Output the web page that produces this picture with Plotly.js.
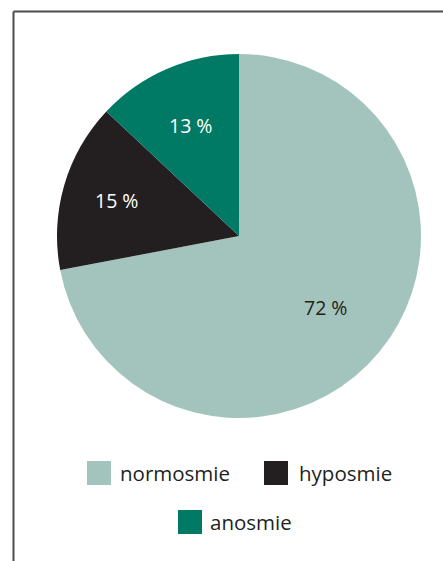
<!DOCTYPE html>
<html>
<head>
<meta charset="utf-8">
<script src="https://cdn.plot.ly/plotly-3.0.1.min.js"></script>
<style>html,body{margin:0;padding:0;background:#fff;}#chart{width:443px;height:561px;}</style>
</head>
<body>
<div id="chart"></div>
<script>
const categories = ["normosmie", "hyposmie", "anosmie"];
const values = [72, 15, 13];
const sliceColors = ["#a3c4bd", "#231f20", "#007a65"];
const labelColors = ["#231f20", "#ffffff", "#ffffff"];

const W = 443, H = 561;
const px = x => x / W;
const py = y => 1 - y / H;

// pie geometry (pixels)
const CX = 239, CY = 236, R = 182;
const labelRadius = [0.62, 0.70, 0.66];

const trace = {
  type: "pie",
  labels: categories,
  values: values,
  sort: false,
  direction: "clockwise",
  rotation: 0,
  marker: { colors: sliceColors, line: { width: 0 } },
  textinfo: "none",
  hoverinfo: "none",
  showlegend: false,
  domain: { x: [px(CX - R), px(CX + R)], y: [py(CY + R), py(CY - R)] }
};

const annotations = [];
// slice labels placed along each slice's mid-angle
const total = values.reduce((a, b) => a + b, 0);
let acc = 0;
values.forEach((v, i) => {
  const mid = (acc + v / 2) / total * 2 * Math.PI;
  acc += v;
  const r = R * labelRadius[i];
  annotations.push({
    xref: "paper", yref: "paper",
    x: px(CX + r * Math.sin(mid)), y: py(CY - r * Math.cos(mid)),
    xanchor: "center", yanchor: "middle", showarrow: false,
    text: v + " %",
    font: { family: "Open Sans, sans-serif", size: 19.5, color: labelColors[i] }
  });
});

// legend (custom, larger swatches)
const legendPos = [
  { sx: 87, sy: 461, tx: 118, ty: 473 },
  { sx: 264, sy: 461, tx: 297, ty: 473 },
  { sx: 178, sy: 510, tx: 208, ty: 522 }
];
const shapes = [
  { type: "line", xref: "paper", yref: "paper", x0: px(13.5), x1: px(13.5), y0: py(11.5), y1: -0.05, line: { color: "#4d4d4d", width: 2 } },
  { type: "line", xref: "paper", yref: "paper", x0: px(13.5), x1: 1.05, y0: py(11.5), y1: py(11.5), line: { color: "#4d4d4d", width: 2 } }
];
categories.forEach((c, i) => {
  const p = legendPos[i];
  shapes.push({ type: "rect", xref: "paper", yref: "paper", x0: px(p.sx), x1: px(p.sx + 24), y0: py(p.sy + 24), y1: py(p.sy), fillcolor: sliceColors[i], line: { width: 0 } });
  annotations.push({ xref: "paper", yref: "paper", x: px(p.tx), y: py(p.ty), xanchor: "left", yanchor: "middle", showarrow: false, text: c, font: { family: "Open Sans, sans-serif", size: 20.5, color: "#231f20" } });
});

const layout = {
  width: W, height: H,
  margin: { l: 0, r: 0, t: 0, b: 0 },
  paper_bgcolor: "#ffffff",
  showlegend: false,
  shapes: shapes,
  annotations: annotations
};

Plotly.newPlot("chart", [trace], layout, { displayModeBar: false, staticPlot: true });
</script>
</body>
</html>
